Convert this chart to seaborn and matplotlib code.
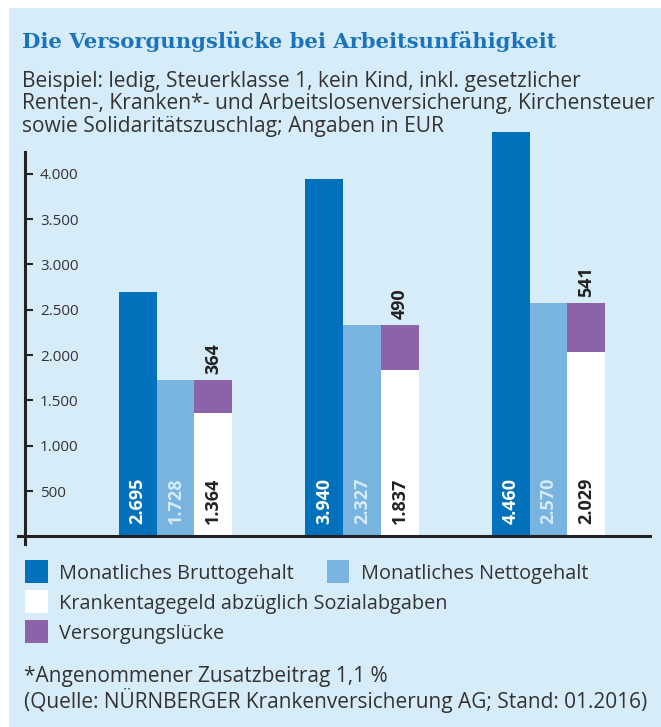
import pandas as pd
import matplotlib.pyplot as plt
from matplotlib.patches import Rectangle
import seaborn as sns

# Data (EUR per month)
groups = ['Beispiel 1', 'Beispiel 2', 'Beispiel 3']
brutto = [2695, 3940, 4460]
netto = [1728, 2327, 2570]
krankentagegeld = [1364, 1837, 2029]
luecke = [364, 490, 541]

series_names = ['Monatliches Bruttogehalt', 'Monatliches Nettogehalt',
                'Krankentagegeld abzüglich Sozialabgaben', 'Versorgungslücke']
yticks = [500, 1000, 1500, 2000, 2500, 3000, 3500, 4000]

DARK = '#0071BA'
LIGHT = '#79B3E0'
WHITE = '#FFFFFF'
PURPLE = '#8C62A8'
BG = '#D6ECF9'
TXT = '#333333'
TITLE = '#1B74BB'


def fmt(v):
    return f'{v:,}'.replace(',', '.')


df = pd.DataFrame({
    'Gruppe': groups * 3,
    'Reihe': [series_names[0]] * 3 + [series_names[1]] * 3 + [series_names[2]] * 3,
    'Wert': brutto + netto + krankentagegeld,
})

sns.set_theme(style='white')
plt.rcParams['font.family'] = ['Open Sans', 'DejaVu Sans']

W, H = 661, 727
fig = plt.figure(figsize=(W / 100, H / 100), dpi=100, facecolor='white')
fig.patches.append(Rectangle((9 / W, 0), 1, 1 - 8 / H, transform=fig.transFigure,
                             facecolor=BG, edgecolor='none', zorder=-5))

ax = fig.add_axes([18 / W, 1 - 544 / H, 632 / W, 424 / H])
ax.set_facecolor('none')
ax.set_zorder(2)

palette = {series_names[0]: DARK, series_names[1]: LIGHT, series_names[2]: WHITE}
sns.barplot(data=df, x='Gruppe', y='Wert', hue='Reihe', hue_order=series_names[:3],
            palette=palette, width=0.609, gap=0, saturation=1, errorbar=None,
            linewidth=0, legend=False, ax=ax)

# purple gap stacked on the white bars
white_bars = ax.containers[2]
for bar, base, gap in zip(white_bars, krankentagegeld, luecke):
    ax.bar(bar.get_x(), gap, bottom=base, width=bar.get_width(), align='edge',
           color=PURPLE, linewidth=0)
    ax.annotate(str(gap), (bar.get_x() + bar.get_width() / 2, base + gap),
                xytext=(0, 4.5), textcoords='offset points', rotation=90,
                ha='center', va='bottom', fontsize=13, fontweight='bold', color='#222222')

label_colors = ['white', BG, '#222222']
for cont, vals, col in zip(ax.containers[:3], [brutto, netto, krankentagegeld], label_colors):
    for bar, v in zip(cont, vals):
        ax.annotate(fmt(v), (bar.get_x() + bar.get_width() / 2, 0),
                    xytext=(0, 9), textcoords='offset points', rotation=90,
                    ha='center', va='bottom', fontsize=13, fontweight='bold', color=col)

# axes styling
ax.set_xlim(-0.8445, 2.5443)
ax.set_ylim(-82.7, 4592)
ax.set_xlabel('')
ax.set_ylabel('')
for s in ['top', 'left']:
    ax.spines[s].set_visible(False)
ax.spines['right'].set_position(('data', -0.807))
ax.spines['right'].set_bounds(-82.7, 4239)
ax.spines['bottom'].set_position(('data', 0))
for s in ['right', 'bottom']:
    ax.spines[s].set_color('#222222')
    ax.spines[s].set_linewidth(2.2)

ax.yaxis.tick_right()
ax.set_yticks(yticks)
ax.set_yticklabels([fmt(t) for t in yticks])
ax.tick_params(axis='y', direction='out', length=5.8, width=1.5, color='#222222',
               labelsize=11, labelcolor=TXT, pad=5)
ax.set_xticks([0.5, 1.5])
ax.set_xticklabels([])
ax.tick_params(axis='x', direction='out', length=5, width=1.8, color='#222222')
ax.grid(False)

# title and subtitle
fig.text(22.5 / W, 1 - 48.3 / H, 'Die Versorgungslücke bei Arbeitsunfähigkeit',
         family=['DejaVu Serif'], fontweight='bold', fontsize=15.2,
         color=TITLE, va='baseline')
sub = ['Beispiel: ledig, Steuerklasse 1, kein Kind, inkl. gesetzlicher',
       'Renten-, Kranken*- und Arbeitslosenversicherung, Kirchensteuer',
       'sowie Solidaritätszuschlag; Angaben in EUR']
for i, line in enumerate(sub):
    fig.text(22 / W, 1 - (86.7 + 22.5 * i) / H, line, fontsize=15.1, color=TXT, va='baseline')

# legend
legend_items = [(series_names[0], DARK, 25, 560, 59.3),
                (series_names[1], LIGHT, 326.7, 560, 361),
                (series_names[2], WHITE, 25, 590, 59.3),
                (series_names[3], PURPLE, 25, 620, 59.3)]
for name, col, x0, y0, tx in legend_items:
    fig.patches.append(Rectangle((x0 / W, 1 - (y0 + 22.7) / H), 22.7 / W, 22.7 / H,
                                 transform=fig.transFigure, facecolor=col,
                                 edgecolor='none', zorder=1))
    fig.text(tx / W, 1 - (y0 + 19.3) / H, name, fontsize=14.3, color=TXT, va='baseline')

fig.text(24 / W, 1 - 681.7 / H, '*Angenommener Zusatzbeitrag 1,1 %',
         fontsize=15, color=TXT, va='baseline')
fig.text(24 / W, 1 - 708 / H,
         '(Quelle: NÜRNBERGER Krankenversicherung AG; Stand: 01.2016)',
         fontsize=15, color=TXT, va='baseline')

fig.savefig('out.png', dpi=100, facecolor='white')
